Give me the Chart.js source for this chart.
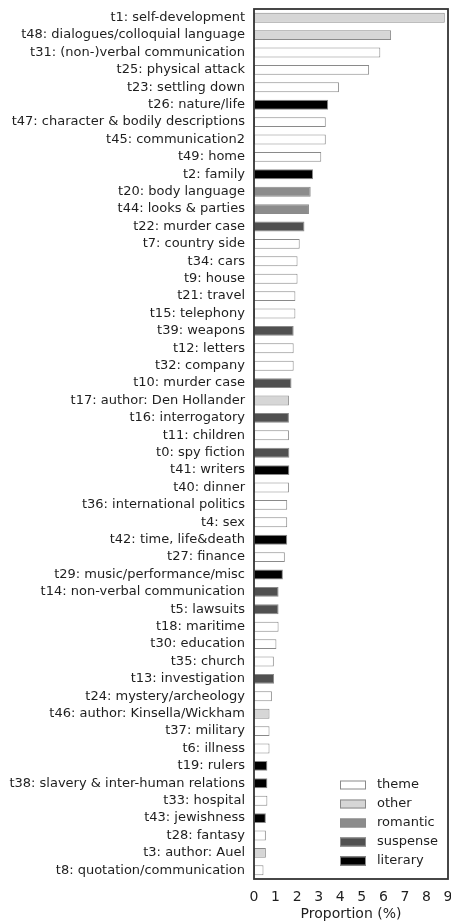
<!DOCTYPE html>
<html>
<head>
<meta charset="utf-8">
<script src="https://cdn.jsdelivr.net/npm/chart.js@4"></script>
<style>
html, body { margin: 0; padding: 0; background: #fff; }
#wrap { width: 451px; height: 921px; }
</style>
</head>
<body>
<div id="wrap"><canvas id="topics"></canvas></div>
<script>
var topics = ['t1: self-development', 't48: dialogues/colloquial language', 't31: (non-)verbal communication',
  't25: physical attack', 't23: settling down', 't26: nature/life', 't47: character & bodily descriptions',
  't45: communication2', 't49: home', 't2: family', 't20: body language', 't44: looks & parties',
  't22: murder case', 't7: country side', 't34: cars', 't9: house', 't21: travel', 't15: telephony',
  't39: weapons', 't12: letters', 't32: company', 't10: murder case', 't17: author: Den Hollander',
  't16: interrogatory', 't11: children', 't0: spy fiction', 't41: writers', 't40: dinner',
  't36: international politics', 't4: sex', 't42: time, life&death', 't27: finance',
  't29: music/performance/misc', 't14: non-verbal communication', 't5: lawsuits', 't18: maritime',
  't30: education', 't35: church', 't13: investigation', 't24: mystery/archeology',
  't46: author: Kinsella/Wickham', 't37: military', 't6: illness', 't19: rulers',
  't38: slavery & inter-human relations', 't33: hospital', 't43: jewishness', 't28: fantasy',
  't3: author: Auel', 't8: quotation/communication'];
var proportions = [8.85, 6.36, 5.86, 5.34, 3.94, 3.44, 3.33, 3.33, 3.12, 2.74, 2.63, 2.55,
  2.34, 2.12, 2.02, 2.02, 1.92, 1.92, 1.84, 1.84, 1.84, 1.74, 1.62,
  1.62, 1.62, 1.64, 1.64, 1.62, 1.54, 1.54, 1.54, 1.43,
  1.34, 1.14, 1.14, 1.14, 1.04, 0.92, 0.93, 0.83,
  0.72, 0.72, 0.72, 0.62, 0.62, 0.62, 0.55, 0.55, 0.55, 0.44];
var topicTypes = ['other', 'other', 'theme', 'theme', 'theme', 'literary', 'theme',
  'theme', 'theme', 'literary', 'romantic', 'romantic',
  'suspense', 'theme', 'theme', 'theme', 'theme', 'theme',
  'suspense', 'theme', 'theme', 'suspense', 'other',
  'suspense', 'theme', 'suspense', 'literary', 'theme',
  'theme', 'theme', 'literary', 'theme',
  'literary', 'suspense', 'suspense', 'theme',
  'theme', 'theme', 'suspense', 'theme',
  'other', 'theme', 'theme', 'literary',
  'literary', 'theme', 'literary', 'theme',
  'other', 'theme'];
var typeNames = ['theme', 'other', 'romantic', 'suspense', 'literary'];
var typeFill = ['#ffffff', '#d6d6d6', '#8c8c8c', '#505050', '#000000'];
var xTicks = [0, 1, 2, 3, 4, 5, 6, 7, 8, 9];

var textColor = '#1e1e1e';
var font = { family: 'DejaVu Sans', size: 13 };
var axisFont = { family: 'DejaVu Sans', size: 14 };

// one dataset per topic type, null where the topic is of another type
var datasets = typeNames.map(function (t, i) {
  return {
    label: t,
    data: proportions.map(function (v, j) { return topicTypes[j] === t ? v : null; }),
    backgroundColor: typeFill[i],
    borderColor: '#8a8a8a',
    borderWidth: 1,
    borderSkipped: false
  };
});

// frame around the plot + legend in the lower right corner
var framePlugin = {
  id: 'frame',
  afterDraw: function (chart) {
    var c = chart.ctx, a = chart.chartArea;
    c.save();
    c.strokeStyle = '#333';
    c.lineWidth = 1.8;
    c.strokeRect(a.left, a.top, a.right - a.left, a.bottom - a.top);
    // legend
    var x0 = a.right - 108, y0 = a.bottom - 94, step = 19;
    c.font = '13px "DejaVu Sans"';
    c.textBaseline = 'middle';
    c.textAlign = 'left';
    chart.data.datasets.forEach(function (ds, i) {
      var y = y0 + i * step;
      c.fillStyle = ds.backgroundColor;
      c.fillRect(x0, y - 4.5, 26, 9);
      c.strokeStyle = '#8a8a8a';
      c.lineWidth = 1;
      c.strokeRect(x0 + 0.5, y - 4, 25, 8);
      c.fillStyle = textColor;
      c.fillText(ds.label, x0 + 37, y);
    });
    c.restore();
  }
};

new Chart(document.getElementById('topics'), {
  type: 'bar',
  data: { labels: topics, datasets: datasets },
  options: {
    indexAxis: 'y',
    responsive: true,
    maintainAspectRatio: false,
    animation: false,
    layout: { padding: { top: 9, right: 3, left: 0, bottom: 0 } },
    datasets: { bar: { grouped: false, categoryPercentage: 1, barPercentage: 0.57 } },
    plugins: { legend: { display: false }, tooltip: { enabled: false } },
    scales: {
      x: {
        min: 0, max: 9,
        afterBuildTicks: function (s) { s.ticks = xTicks.map(function (v) { return { value: v }; }); },
        grid: { display: false, drawTicks: false },
        border: { display: false },
        ticks: { color: textColor, font: axisFont, padding: 10, maxRotation: 0 },
        title: { display: true, text: 'Proportion (%)', color: textColor,
          font: { family: 'DejaVu Sans', size: 14, lineHeight: 1 }, padding: { top: 3, bottom: 0 } },
        afterFit: function (s) { s.height = 42; s.paddingLeft = 0; s.paddingRight = 0; }
      },
      y: {
        grid: { display: false, drawTicks: false },
        border: { display: false },
        ticks: { color: textColor, font: font, padding: 9, autoSkip: false },
        afterFit: function (s) { s.width = 254; s.paddingTop = 0; s.paddingBottom = 0; }
      }
    }
  },
  plugins: [framePlugin]
});
</script>
</body>
</html>
